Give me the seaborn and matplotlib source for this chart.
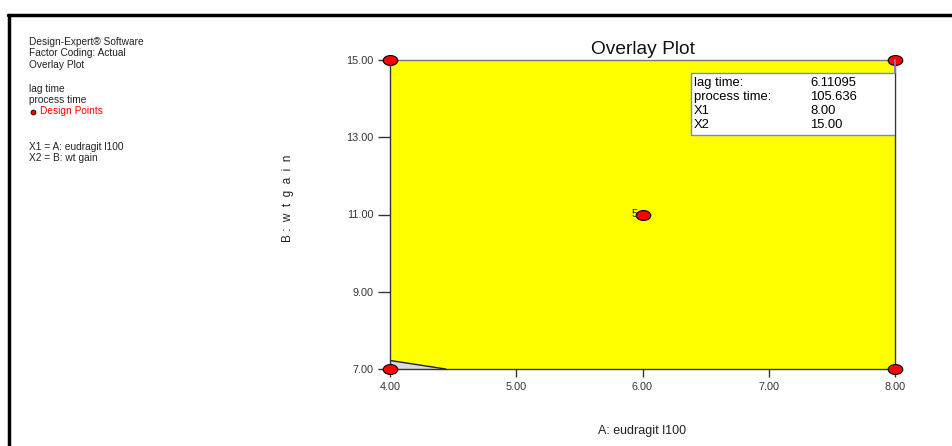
import numpy as np
import seaborn as sns
import matplotlib.pyplot as plt
from matplotlib import font_manager
from matplotlib.path import Path
from matplotlib.patches import Rectangle
from matplotlib.lines import Line2D

# Data
design_x = [4.0, 4.0, 8.0, 8.0, 6.0]
design_y = [7.0, 15.0, 7.0, 15.0, 11.0]
center_label = "5"
x_ticks = [4.0, 5.0, 6.0, 7.0, 8.0]
y_ticks = [7.0, 9.0, 11.0, 13.0, 15.0]
# small infeasible corner (grey) at lower left
corner_x = [4.0, 4.0, 4.44]
corner_y = [7.0, 7.22, 7.0]
info_labels = ["lag time:", "process time:", "X1", "X2"]
info_values = ["6.11095", "105.636", "8.00", "15.00"]
side_text_1 = ["Design-Expert® Software", "Factor Coding: Actual", "Overlay Plot"]
side_text_2 = ["lag time", "process time"]
side_text_3 = ["X1 = A: eudragit l100", "X2 = B: wt gain"]

sns.set_theme(style="white")

# keep the regular (not narrow) Liberation Sans
fm = font_manager.fontManager
fm.ttflist = [f for f in fm.ttflist if "narrow" not in f.fname.lower()]
fm._findfont_cached.cache_clear()
plt.rcParams['font.family'] = ['Liberation Sans', 'DejaVu Sans']

fig = plt.figure(figsize=(9.52, 4.46), dpi=100)
ax = fig.add_axes([390 / 952, 1 - 369 / 446, 505 / 952, 309 / 446])

# feasible region = whole design space
ax.set_facecolor("#ffff00")
ax.fill(corner_x, corner_y, color="#dcdcdc", zorder=1)
ax.plot(corner_x[1:], corner_y[1:], color="#222222", lw=1, zorder=2)

# ellipse marker for design points
circ = Path.unit_circle()
ell = Path(circ.vertices * np.array([1.0, 0.68]), circ.codes)
sns.scatterplot(x=design_x, y=design_y, ax=ax, marker=ell, s=110, color="#ff0000",
                edgecolor="#000000", linewidth=0.8, zorder=5, clip_on=False, legend=False)
ax.text(design_x[4] - 0.035, design_y[4], center_label, ha="right", va="center",
        fontsize=8, color="#222222", zorder=6)

ax.set_xlim(4, 8)
ax.set_ylim(7, 15)
ax.set_xticks(x_ticks)
ax.set_yticks(y_ticks)
ax.set_xticklabels([f"{v:.2f}" for v in x_ticks])
ax.set_yticklabels([f"{v:.2f}" for v in y_ticks])
ax.tick_params(axis="x", direction="out", length=6, width=1, color="#333333",
               labelsize=7.8, labelcolor="#333333", pad=3, bottom=True)
ax.tick_params(axis="y", direction="out", length=9, width=1, color="#333333",
               labelsize=7.8, labelcolor="#333333", pad=3, left=True)
for side in ["left", "bottom", "right"]:
    ax.spines[side].set_color("#333333")
    ax.spines[side].set_linewidth(1)
ax.spines["top"].set_color("#777777")
ax.spines["top"].set_linewidth(1)

ax.set_title("Overlay Plot", fontsize=13.8, color="#111111", pad=4)
ax.set_xlabel("A: eudragit l100", fontsize=9, color="#222222", labelpad=24)
ax.set_ylabel("B :  w  t  g  a  i  n", fontsize=8.5, color="#222222")
ax.yaxis.set_label_coords(-0.19, 0.553)

# flag / info box
bx0, bx1 = (691 - 390) / 505, 1.0
by0, by1 = 1 - 75 / 309, 1 - 13 / 309
ax.add_patch(Rectangle((bx0, by0), bx1 - bx0, by1 - by0, transform=ax.transAxes,
                       facecolor="white", edgecolor="#8080e0", lw=1, zorder=7))
ax.plot([1.0, 1.0], [by1, 1.0], transform=ax.transAxes, color="#8080e0", lw=1.2,
        zorder=8, clip_on=False)
row_y = [83, 97, 111, 125]
for lab, val, ry in zip(info_labels, info_values, row_y):
    yy = 1 - (ry - 60) / 309
    ax.text((694 - 390) / 505, yy, lab, transform=ax.transAxes, fontsize=9.4,
            va="center", ha="left", color="#000000", zorder=9)
    ax.text((810 - 390) / 505, yy, val, transform=ax.transAxes, fontsize=9.4,
            va="center", ha="left", color="#000000", zorder=9)

# left side legend text
fs = 7.3
def fy(py):
    return 1 - py / 446
for i, t in enumerate(side_text_1):
    fig.text(29 / 952, fy(42 + i * 11.3), t, fontsize=fs, color="#222222", va="center")
for i, t in enumerate(side_text_2):
    fig.text(29 / 952, fy(89 + i * 11.3), t, fontsize=fs, color="#222222", va="center")
fig.text(40 / 952, fy(111.5), "Design Points", fontsize=fs, color="#ff0000", va="center")
fig.add_artist(Line2D([33 / 952], [fy(111.5)], marker="o", markersize=3.5,
                      markerfacecolor="#ff0000", markeredgecolor="#000000",
                      markeredgewidth=0.6, transform=fig.transFigure))
for i, t in enumerate(side_text_3):
    fig.text(29 / 952, fy(146.5 + i * 11.6), t, fontsize=fs, color="#222222", va="center")

# outer frame (left and top lines)
fig.add_artist(Line2D([9 / 952, 9 / 952], [0, fy(14.5)], color="black", lw=2.5,
                      transform=fig.transFigure))
fig.add_artist(Line2D([8 / 952, 1.0], [fy(15), fy(15)], color="black", lw=2.5,
                      transform=fig.transFigure))

fig.savefig("out.png", dpi=100)
